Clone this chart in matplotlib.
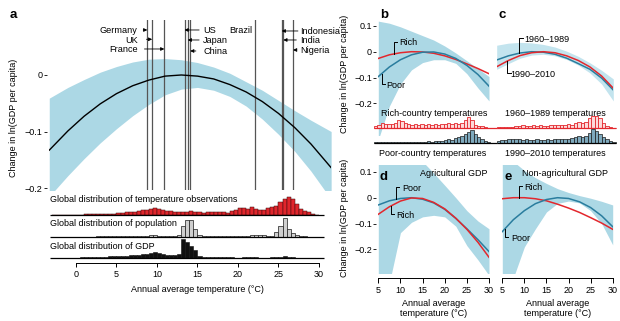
import numpy as np
import matplotlib
matplotlib.use('Agg')
import matplotlib.pyplot as plt

plt.rcParams['font.family'] = ['Liberation Sans', 'DejaVu Sans']
plt.rcParams['font.size'] = 6.5

# ---------------- panel a: global response ----------------
temp_a = [-3.3, -1, 1, 3, 5, 7, 9, 11, 13, 15, 17, 19, 21, 23, 25, 27, 29, 31.5]
resp_a = [-0.133, -0.099, -0.073, -0.051, -0.033, -0.019, -0.009, -0.002, 0.0,
          -0.002, -0.007, -0.017, -0.030, -0.047, -0.068, -0.093, -0.122, -0.164]
resp_a_hi = [-0.041, -0.022, -0.008, 0.005, 0.015, 0.023, 0.028, 0.029, 0.027,
             0.022, 0.014, 0.003, -0.012, -0.027, -0.045, -0.063, -0.080, -0.100]
resp_a_lo = [-0.215, -0.178, -0.148, -0.120, -0.095, -0.072, -0.052, -0.035, -0.025,
             -0.022, -0.027, -0.038, -0.055, -0.078, -0.105, -0.135, -0.170, -0.220]

countries = ['Germany', 'UK', 'France', 'US', 'Japan', 'China',
             'Brazil', 'Indonesia', 'India', 'Nigeria']
country_temp = [8.8, 9.4, 10.9, 13.4, 13.8, 14.1, 22.1, 25.4, 25.6, 26.8]

# distributions under panel a, 0.5 C bins from -3 to 30
hist_a_edges = np.arange(-3.0, 30.01, 0.5)
obs_a = [0.3, 0.3, 0.3, 0.3, 0.4, 0.4, 0.5, 0.5, 0.6, 0.7, 0.8, 0.9, 1.0, 1.1, 1.2, 1.4,
         2.0, 2.2, 2.6, 3.2, 3.0, 3.6, 4.6, 5.2, 6.0, 6.8, 6.2, 5.0, 4.2, 3.6, 2.8, 2.6, 3.4, 3.0, 3.6, 3.2,
         2.6, 2.2, 2.8, 3.4, 3.0, 2.6, 2.8, 2.4, 4.0, 5.4, 7.0, 6.6, 6.0, 7.8, 5.6, 5.2, 5.4, 6.8, 7.6, 9.0,
         13.0, 16.0, 18.0, 16.0, 11.0, 6.5, 4.3, 2.7, 1.0, 0.4]
pop_a = [0.3, 0.3, 0.3, 0.3, 0.3, 0.3, 0.4, 0.4, 0.5, 0.5, 0.5, 0.6, 0.6, 0.6, 0.7, 0.7,
         0.7, 0.8, 0.8, 0.8, 0.9, 0.9, 1.0, 1.2, 1.6, 1.8, 1.4, 1.0, 0.9, 0.9, 1.0, 2.0, 11.0, 17.0, 17.0, 8.0,
         1.6, 1.2, 0.8, 0.8, 1.0, 0.8, 0.8, 1.2, 1.0, 0.8, 1.0, 1.2, 1.4, 2.0, 2.2, 2.4, 2.0, 1.4, 1.2, 5.0,
         11.0, 19.5, 8.0, 4.0, 1.6, 0.9, 0.6, 0.5, 0.4, 0.3]
gdp_a = [0.3, 0.3, 0.3, 0.4, 0.4, 0.4, 0.5, 0.6, 0.7, 0.8, 0.9, 1.0, 1.2, 1.4, 1.6, 1.8,
         2.0, 2.2, 2.4, 2.8, 3.0, 3.2, 3.6, 4.4, 5.4, 5.8, 5.2, 4.2, 3.4, 3.0, 3.0, 3.6, 19.0, 16.0, 12.5, 7.6,
         1.6, 1.2, 0.8, 0.6, 0.6, 0.8, 0.6, 1.2, 0.6, 0.5, 0.5, 0.6, 0.8, 1.0, 0.7, 0.5, 0.5, 0.5, 0.6, 0.8,
         1.2, 1.6, 1.2, 0.6, 0.4, 0.3, 0.3, 0.2, 0.2, 0.2]

# ---------------- panels b-e ----------------
temp_be = [5, 7.5, 10, 12.5, 15, 17.5, 20, 22.5, 25, 27.5, 30]

rich_b = [-0.026, -0.012, -0.004, 0.0, -0.001, -0.006, -0.016, -0.030, -0.047, -0.065, -0.085]
poor_b = [-0.096, -0.059, -0.031, -0.012, -0.002, -0.001, -0.009, -0.026, -0.053, -0.088, -0.133]
band_b_hi = [0.118, 0.110, 0.096, 0.079, 0.062, 0.045, 0.022, -0.005, -0.035, -0.065, -0.096]
band_b_lo = [-0.34, -0.21, -0.125, -0.070, -0.042, -0.031, -0.031, -0.045, -0.085, -0.14, -0.19]

early_c = [-0.032, -0.016, -0.005, 0.0, -0.002, -0.010, -0.025, -0.046, -0.068, -0.102, -0.148]
late_c = [-0.058, -0.034, -0.015, -0.004, 0.0, -0.004, -0.016, -0.034, -0.059, -0.094, -0.141]
band_c_hi = [0.025, 0.033, 0.036, 0.034, 0.028, 0.018, 0.002, -0.018, -0.043, -0.072, -0.105]
band_c_lo = [-0.068, -0.046, -0.025, -0.013, -0.010, -0.016, -0.030, -0.052, -0.082, -0.125, -0.19]

poor_d = [-0.028, -0.012, -0.003, 0.0, -0.006, -0.020, -0.045, -0.080, -0.120, -0.162, -0.208]
rich_d = [-0.064, -0.035, -0.013, -0.001, -0.003, -0.018, -0.043, -0.079, -0.122, -0.172, -0.230]
band_d_hi = [0.22, 0.21, 0.19, 0.165, 0.14, 0.095, 0.048, 0.0, -0.05, -0.09, -0.12]
band_d_lo = [-0.5, -0.33, -0.135, -0.095, -0.074, -0.068, -0.074, -0.11, -0.185, -0.24, -0.30]

rich_e = [-0.004, 0.0, 0.0, -0.004, -0.012, -0.025, -0.040, -0.057, -0.077, -0.098, -0.122]
poor_e = [-0.131, -0.085, -0.050, -0.023, -0.007, 0.0, -0.003, -0.016, -0.038, -0.070, -0.112]
band_e_hi = [0.16, 0.14, 0.105, 0.077, 0.055, 0.035, 0.020, 0.008, -0.002, -0.014, -0.028]
band_e_lo = [-0.6, -0.31, -0.19, -0.12, -0.055, -0.022, -0.013, -0.020, -0.050, -0.100, -0.182]

# temperature distributions in b and c (0.75 C bins)
hist_b_edges = np.arange(4.0, 30.3, 0.75)
rich_hist_b = [2.3, 3.0, 5.0, 4.6, 4.3, 4.8, 5.7, 8.3, 7.0, 5.2, 4.3, 3.6, 4.6, 3.4, 4.2, 3.6, 4.0, 3.5,
               4.2, 3.8, 4.4, 3.9, 5.0, 4.6, 5.2, 4.4, 5.3, 8.0, 11.7, 8.5, 3.5, 2.6, 2.3, 1.5, 0.8]
poor_hist_b = [0.8, 0.8, 0.9, 0.9, 1.0, 1.0, 1.1, 1.0, 1.1, 1.0, 1.0, 1.2, 1.1, 1.0, 1.2, 1.1, 1.3, 1.2,
               1.5, 1.6, 2.2, 2.8, 3.4, 3.0, 4.8, 5.6, 6.6, 8.6, 11.0, 13.0, 9.0, 6.0, 3.6, 2.2, 1.0]
hist_c_edges = np.arange(5.0, 30.6, 0.75)
early_hist_c = [1.2, 1.5, 1.4, 1.8, 1.6, 2.0, 2.6, 3.0, 2.4, 2.8, 3.2, 2.6, 3.0, 2.4, 2.8, 3.2, 2.9,
                3.4, 3.8, 3.2, 4.4, 3.8, 5.4, 6.2, 5.0, 6.6, 10.0, 12.3, 12.0, 10.0, 5.0, 2.4, 1.2, 0.6]
late_hist_c = [2.0, 2.4, 2.8, 3.4, 3.8, 4.2, 3.6, 3.2, 3.4, 3.0, 3.2, 3.4, 3.0, 3.2, 3.6, 3.0, 3.3,
               3.8, 3.4, 4.2, 3.8, 4.4, 5.6, 6.4, 5.8, 7.0, 9.3, 13.3, 12.0, 9.0, 6.0, 3.3, 1.6, 0.8]

RED = '#e3272d'
BLUE = '#2a7d9e'
BAND = '#acd8e5'
BAND_C = '#c3e4ee'

W, H = 620, 321
fig = plt.figure(figsize=(W / 100, H / 100), dpi=100)
fig.patch.set_facecolor('white')
PT = 0.72  # points per pixel at 100 dpi


def px_axes(x0, y0, x1, y1):
    ax = fig.add_axes([x0 / W, 1 - y1 / H, (x1 - x0) / W, (y1 - y0) / H])
    ax.patch.set_alpha(0)
    for s in ax.spines.values():
        s.set_visible(False)
    ax.set_xticks([])
    ax.set_yticks([])
    return ax


def px_text(x, y, s, **kw):
    kw.setdefault('va', 'center_baseline')
    fig.text(x / W, 1 - y / H, s, **kw)


def y_ticks(ax, ticks, labels):
    ax.spines['left'].set_position(('outward', 2 * PT))
    ax.set_yticks(ticks, labels)
    ax.tick_params(axis='y', length=2.6 * PT, width=0.6, pad=1.2, labelsize=6.5)


def x_axis(ax, ticks, offset, ticklen):
    sp = ax.spines['bottom']
    sp.set_visible(True)
    sp.set_position(('outward', offset * PT))
    sp.set_bounds(ticks[0], ticks[-1])
    sp.set_linewidth(0.7)
    ax.set_xticks(ticks, [str(t) for t in ticks])
    ax.tick_params(axis='x', length=ticklen * PT, width=0.7, pad=2, labelsize=6.5)


def bars(ax, edges, heights, fc, ec, lw):
    ax.bar(edges[:-1], heights, width=np.diff(edges), align='edge',
           color=fc, edgecolor=ec, linewidth=lw, clip_on=False)


def baseline(ax, x0, x1, color):
    ax.hlines(0, x0, x1, color=color, lw=0.9, clip_on=False, zorder=4)


def bracket(ax, t, temps, curve, y_lab, text, tx):
    yc = float(np.interp(t, temps, curve))
    ax.plot([t, t, t + 0.7], [yc, y_lab, y_lab], color='k', lw=0.7, zorder=5)
    ax.text(tx, y_lab, text, va='center_baseline', ha='left', fontsize=6.5, zorder=5)


# ---- panel a ----
ax = px_axes(49, 20, 331, 190)
xlim_a = ((49 - 76) / 8.1, (331 - 76) / 8.1)
ax.set_xlim(xlim_a)
ax.set_ylim(-0.2035, 0.0973)
ax.fill_between(temp_a, resp_a_lo, resp_a_hi, color=BAND, lw=0, zorder=1)
for t in country_temp:
    ax.axvline(t, color='#555555', lw=0.9, zorder=2)
ax.plot(temp_a, resp_a, color='black', lw=1.0, zorder=3)
y_ticks(ax, [0, -0.1, -0.2], ['0', '\u22120.1', '\u22120.2'])

label_py = [30, 39.3, 49, 30, 40, 51, 29.5, 31, 40, 50]
label_x = [7.6, 7.6, 7.6, 15.68, 15.68, 15.68, 21.77, 27.65, 27.65, 27.65]
label_ha = ['right'] * 3 + ['left'] * 3 + ['right'] + ['left'] * 3
arrow_tail = [8.3, 8.7, 8.45, 15.2, 15.2, 14.8, None, 27.4, 27.2, 27.15]
for name, t, py, tx, ha, tail in zip(countries, country_temp, label_py, label_x, label_ha, arrow_tail):
    yv = (75 - py) / 565
    ax.text(tx, yv, name, ha=ha, va='center_baseline', fontsize=6.6, zorder=5)
    if tail is not None:
        ax.annotate('', xy=(t, yv), xytext=(tail, yv),
                    arrowprops=dict(arrowstyle='-|>', lw=0.6, color='k',
                                    shrinkA=0, shrinkB=0, mutation_scale=5), zorder=5)

hist_specs = [
    (215, obs_a, '#e0262c', '#3a0c0c', 0.35, 'Global distribution of temperature observations', 199),
    (237, pop_a, '#cfcfcf', '#1a1a1a', 0.5, 'Global distribution of population', 223),
    (258, gdp_a, '#111111', '#111111', 0.4, 'Global distribution of GDP', 245.7),
]
for base, vals, fc, ec, lw, title, ty in hist_specs:
    hx = px_axes(49, base - 22, 331, base)
    hx.set_xlim(xlim_a)
    hx.set_ylim(0, 22)
    bars(hx, hist_a_edges, vals, fc, ec, lw)
    baseline(hx, hist_a_edges[0] - 0.2, hist_a_edges[-1] + 0.6, 'k')
    px_text(50, ty, title, ha='left')
x_axis(hx, [0, 5, 10, 15, 20, 25, 30], 5, 4)
px_text(197, 288, 'Annual average temperature (\u00b0C)', ha='center')
px_text(14, 118, 'Change in ln(GDP per capita)', ha='center', va='center', rotation=90)

# ---- panels b and c ----
ylim_bc = ((51.7 - 135) / 259, (51.7 - 20) / 259)

bx = px_axes(378.3, 20, 489, 135)
bx.set_xlim(5, 30)
bx.set_ylim(ylim_bc)
bx.fill_between(temp_be, band_b_lo, band_b_hi, color=BAND, lw=0)
bx.plot(temp_be, rich_b, color=RED, lw=1.1)
bx.plot(temp_be, poor_b, color=BLUE, lw=1.1)
y_ticks(bx, [0.1, 0, -0.1, -0.2], ['0.1', '0', '\u22120.1', '\u22120.2'])
bracket(bx, 8.6, temp_be, rich_b, 0.0386, 'Rich', 9.75)
bracket(bx, 5.77, temp_be, poor_b, -0.125, 'Poor', 6.9)

cx = px_axes(496.7, 20, 613.3, 135)
cx.set_xlim(5, 30)
cx.set_ylim(ylim_bc)
cx.fill_between(temp_be, band_c_lo, band_c_hi, color=BAND_C, lw=0)
cx.plot(temp_be, early_c, color=BLUE, lw=1.1)
cx.plot(temp_be, late_c, color=RED, lw=1.1)
bracket(cx, 9.85, temp_be, early_c, 0.052, '1960\u20131989', 10.9)
bracket(cx, 7.27, temp_be, late_c, -0.083, '1990\u20132010', 8.0)

hb = px_axes(373.9, 113.3, 496.6, 128.3)
hb.set_xlim(4, 31.7)
hb.set_ylim(0, 15)
bars(hb, hist_b_edges, rich_hist_b, '#fcd9d9', RED, 0.6)
baseline(hb, 4, 31.7, RED)
hb2 = px_axes(373.9, 127.7, 496.6, 142.7)
hb2.set_xlim(4, 31.7)
hb2.set_ylim(0, 15)
bars(hb2, hist_b_edges, poor_hist_b, '#7ea9bd', '#1a1a1a', 0.5)
baseline(hb2, 4, 31.7, 'k')

hc = px_axes(496.7, 113.3, 615.5, 128.3)
hc.set_xlim(5, 30.5)
hc.set_ylim(0, 15)
bars(hc, hist_c_edges, early_hist_c, '#fcd9d9', RED, 0.6)
baseline(hc, 5, 30.5, RED)
hc2 = px_axes(496.7, 127.7, 615.5, 142.7)
hc2.set_xlim(5, 30.5)
hc2.set_ylim(0, 15)
bars(hc2, hist_c_edges, late_hist_c, '#7ea9bd', '#1a1a1a', 0.5)
baseline(hc2, 5, 30.5, 'k')

px_text(380.7, 112.7, 'Rich-country temperatures', ha='left')
px_text(379.3, 152.7, 'Poor-country temperatures', ha='left')
px_text(505, 112.7, '1960\u20131989 temperatures', ha='left')
px_text(505, 152.7, '1990\u20132010 temperatures', ha='left')
px_text(345, 74, 'Change in ln(GDP per capita)', ha='center', va='center', rotation=90)

# ---- panels d and e ----
ylim_de = ((197.7 - 273) / 259, (197.7 - 165) / 259)
xt = [5, 10, 15, 20, 25, 30]

dx = px_axes(378.3, 165, 489, 273)
dx.set_xlim(5, 30)
dx.set_ylim(ylim_de)
dx.fill_between(temp_be, band_d_lo, band_d_hi, color=BAND, lw=0)
dx.plot(temp_be, poor_d, color=BLUE, lw=1.1)
dx.plot(temp_be, rich_d, color=RED, lw=1.1)
y_ticks(dx, [0.1, 0, -0.1, -0.2], ['0.1', '0', '\u22120.1', '\u22120.2'])
x_axis(dx, xt, 5.3, 4.5)
bracket(dx, 9.0, temp_be, poor_d, 0.040, 'Poor', 10.3)
bracket(dx, 7.87, temp_be, rich_d, -0.063, 'Rich', 9.15)

ex = px_axes(502.3, 165, 612.7, 273)
ex.set_xlim(5, 30)
ex.set_ylim(ylim_de)
ex.fill_between(temp_be, band_e_lo, band_e_hi, color=BAND, lw=0)
ex.plot(temp_be, rich_e, color=RED, lw=1.1)
ex.plot(temp_be, poor_e, color=BLUE, lw=1.1)
x_axis(ex, xt, 5.3, 4.5)
bracket(ex, 8.85, temp_be, rich_e, 0.045, 'Rich', 9.98)
bracket(ex, 5.6, temp_be, poor_e, -0.153, 'Poor', 7.13)

px_text(420, 172.7, 'Agricultural GDP', ha='left')
px_text(521.7, 172.7, 'Non-agricultural GDP', ha='left')
px_text(345, 218, 'Change in ln(GDP per capita)', ha='center', va='center', rotation=90)
for xc in (433.7, 557.5):
    px_text(xc, 308.7, 'Annual average\ntemperature (\u00b0C)', ha='center', va='center')

# panel letters
for letter, x, y in [('a', 10, 18.5), ('b', 380, 18.5), ('c', 498.5, 18.5),
                     ('d', 380, 180), ('e', 504.3, 180)]:
    px_text(x, y, letter, ha='left', va='baseline', fontsize=9.5, fontweight='bold')

fig.savefig('out.png', dpi=100)
